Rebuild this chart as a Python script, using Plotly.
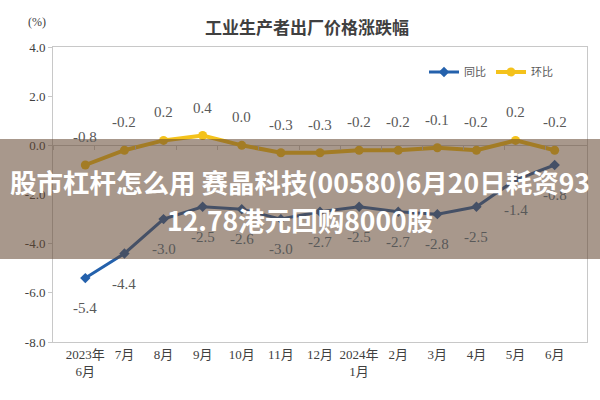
import plotly.graph_objects as go

months = ["2023年<br>6月", "7月", "8月", "9月", "10月", "11月", "12月", "2024年<br>1月",
          "2月", "3月", "4月", "5月", "6月"]
yoy = [-5.4, -4.4, -3.0, -2.5, -2.6, -3.0, -2.7, -2.5, -2.7, -2.8, -2.5, -1.4, -0.8]
mom = [-0.8, -0.2, 0.2, 0.4, 0.0, -0.3, -0.3, -0.2, -0.2, -0.1, -0.2, 0.2, -0.2]
y_ticks = [4.0, 2.0, 0.0, -2.0, -4.0, -6.0, -8.0]

BLUE = "#2461AC"
YELLOW = "#F4C21B"
SERIF = "Liberation Serif, Noto Sans CJK SC"

fig = go.Figure()
fig.add_trace(go.Scatter(x=months, y=yoy, name="同比", mode="lines+markers",
                         line=dict(color=BLUE, width=3),
                         marker=dict(symbol="diamond", size=8, color=BLUE)))
fig.add_trace(go.Scatter(x=months, y=mom, name="环比", mode="lines+markers",
                         line=dict(color=YELLOW, width=4),
                         marker=dict(symbol="circle", size=9, color=YELLOW)))

# data labels
for m, v in zip(months, yoy):
    fig.add_annotation(x=m, y=v, text=f"{v:.1f}", showarrow=False, yshift=-30,
                       font=dict(family=SERIF, size=15, color="#595959"))
for m, v in zip(months, mom):
    fig.add_annotation(x=m, y=v, text=f"{v:.1f}", showarrow=False, yshift=28,
                       font=dict(family=SERIF, size=15, color="#595959"))

W, H = 600, 400
L, R, T, B = 53, 13, 47, 58
pw, ph = W - L - R, H - T - B


def px(xp):
    return (xp - L) / pw


def py(yp):
    return (H - B - yp) / ph


def paper_text(xp, yp, text, font):
    fig.add_annotation(x=px(xp), y=py(yp), xref="paper", yref="paper", showarrow=False,
                       xanchor="center", yanchor="middle", text=text, font=font)


# title and unit
paper_text(307, 26, "<b>工业生产者出厂价格涨跌幅</b>",
           dict(family="Noto Sans CJK SC", size=17, color="#404040"))
paper_text(37, 22, "(%)", dict(family=SERIF, size=12, color="#404040"))

# overlay banner
fig.add_shape(type="rect", xref="paper", yref="paper", x0=px(0), x1=px(600),
              y0=py(259), y1=py(139), fillcolor="rgba(97,68,46,0.55)",
              line=dict(width=0), layer="above")
paper_text(300, 181, "<b>股市杠杆怎么用 赛晶科技(00580)6月20日耗资93</b>",
           dict(family="Noto Sans CJK SC", size=26.5, color="white"))
paper_text(300, 219, "<b>12.78港元回购8000股</b>",
           dict(family="Noto Sans CJK SC", size=26.5, color="white"))

fig.update_layout(
    width=W, height=H,
    margin=dict(l=L, r=R, t=T, b=B, autoexpand=False),
    paper_bgcolor="white", plot_bgcolor="white",
    showlegend=True,
    legend=dict(orientation="h", x=px(558), y=py(72), xanchor="right", yanchor="middle",
                font=dict(family="Noto Sans CJK SC", size=11, color="#595959"),
                itemwidth=30, bgcolor="rgba(0,0,0,0)", tracegroupgap=0),
    xaxis=dict(type="category", categoryarray=months, showgrid=False, zeroline=False,
               showline=True, linecolor="#C8C8C8", mirror=True, ticks="", automargin=False,
               tickfont=dict(family=SERIF, size=13, color="#404040")),
    yaxis=dict(range=[-8, 4], tickvals=y_ticks, ticktext=[f"{v:.1f}" for v in y_ticks],
               showgrid=False, zeroline=True, zerolinecolor="#C8C8C8", zerolinewidth=1,
               showline=True, linecolor="#C8C8C8", mirror=True, automargin=False,
               ticks="outside", ticklen=4, tickcolor="#C8C8C8",
               tickfont=dict(family=SERIF, size=13, color="#404040")),
    xaxis2=dict(type="category", categoryarray=months, overlaying="x", anchor="free",
                position=py(145), range=[-0.5, 12.5], showticklabels=False, automargin=False,
                ticks="outside", ticklen=4, tickcolor="#C8C8C8", tickson="boundaries",
                showgrid=False, showline=False, zeroline=False),
)
fig.add_trace(go.Scatter(x=months, y=[None] * len(months), xaxis="x2", showlegend=False,
                         hoverinfo="skip"))

fig.write_html("out.html", config={"displayModeBar": False},
               post_script="document.body.style.margin='0';document.body.style.overflow='hidden';")
